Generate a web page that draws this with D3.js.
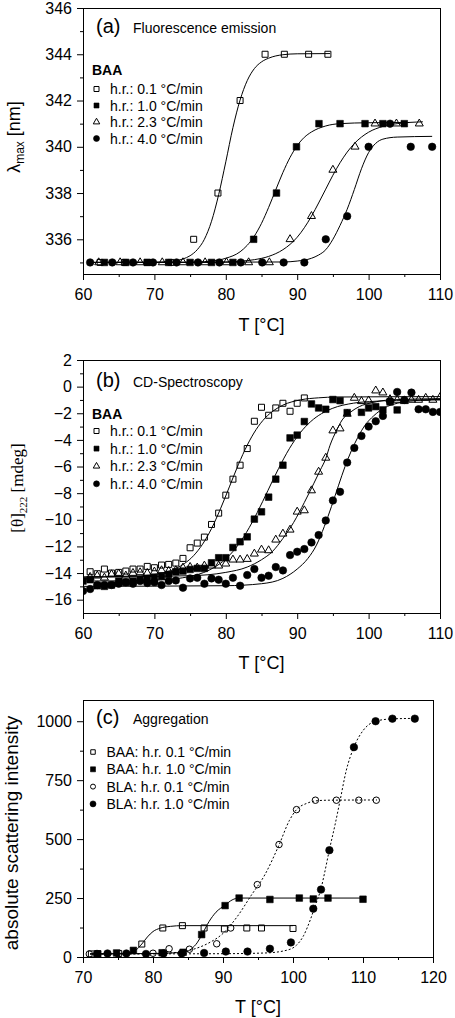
<!DOCTYPE html>
<html><head><meta charset="utf-8">
<script src="https://cdn.jsdelivr.net/npm/d3@7"></script>
<style>
html,body{margin:0;padding:0;background:#fff;}
svg{display:block;}
text{fill:#000;}
</style></head><body>
<svg id="chart" width="455" height="1018" font-family='"Liberation Sans", Arial, sans-serif'></svg>
<script>
// ---------------- Panel (a): Fluorescence emission, lambda_max [nm] ----------------
const aOpenSq01 = [[62.4,335],[65.8,335],[69,335],[72.3,335],[75.5,336],[78.9,338],[82.0,342],[85.5,344],[88.2,344],[91.6,344],[94.3,344]];
const aFillSq10 = [[63,335],[66,335],[69,335],[72,335],[75,335],[78,335],[81,335],[83.9,336],[87.1,338],[89.9,340],[93.05,341],[96,341],[99.5,341],[102,341],[105,341]];
const aTri23 = [[62.2,335],[65.2,335],[68,335],[71.1,335],[74,335],[77.1,335],[80.1,335],[83.2,335],[86.1,335],[89,336],[92,337],[95,339],[98.1,340],[100.9,341],[103.9,341],[107.1,341]];
const aCir40 = [[61,335],[64.1,335],[67,335],[69.8,335],[73.1,335],[76.1,335],[79.1,335],[82.1,335],[85.1,335],[88.1,335],[91,335],[94,336],[97,337],[100,340],[103,341],[105.9,340],[108.9,340]];
const aFit01 = [[61,335],[70,335.01],[72,335.04],[74,335.15],[75,335.29],[76,335.55],[77,336.0],[78,336.78],[79,337.93],[80,339.35],[81,340.83],[82,342.02],[83,342.86],[84,343.38],[85,343.67],[86,343.83],[88,343.98],[90,344.02],[94.6,344.03]];
const aFit10 = [[61,335],[72,335],[76,335.02],[78,335.06],[80,335.18],[82,335.46],[83,335.74],[84,336.14],[85,336.69],[86,337.38],[87,338.14],[88,338.89],[89,339.54],[90,340.05],[91,340.41],[92,340.64],[94,340.9],[96,341.0],[100,341.04],[105.3,341.05]];
const aFit23 = [[61,335],[76,335],[80,335.02],[82,335.05],[84,335.12],[86,335.26],[88,335.55],[89,335.78],[90,336.09],[91,336.5],[92,337.0],[93,337.57],[94,338.17],[95,338.77],[96,339.31],[97,339.77],[98,340.14],[99,340.42],[100,340.63],[102,340.88],[104,341.0],[107.6,341.08]];
const aFit40 = [[61,335],[88,335.02],[90,335.06],[92,335.18],[93,335.32],[94,335.55],[95,336.0],[96,336.6],[97,337.3],[98,338.15],[99,339.05],[100,339.75],[101,340.15],[102,340.33],[104,340.42],[108.9,340.45]];
const aXTicks = [60,70,80,90,100,110];
const aXMinor = [65,75,85,95,105];
const aYTicks = [336,338,340,342,344,346];
const aYMinor = [335,337,339,341,343,345];
const aLegend = ["h.r.: 0.1 °C/min","h.r.: 1.0 °C/min","h.r.: 2.3 °C/min","h.r.: 4.0 °C/min"];

// ---------------- Panel (b): CD-Spectroscopy, [theta]222 [mdeg] ----------------
const bOpenSq01 = [[61,-13.9],[62,-14.05],[63,-13.7],[64,-14.0],[65,-13.95],[66,-13.85],[67,-13.7],[68,-13.7],[69,-13.5],[70,-13.6],[71,-13.4],[72,-13.35],[73,-13.25],[74,-12.9],[75,-12.1],[76,-11.75],[77,-11.3],[78,-10.35],[79,-9.5],[80,-8.15],[81,-6.95],[82,-5.9],[83,-4.65],[84,-2.6],[85,-1.55],[86,-2.15],[87,-1.6],[88,-1.25],[89,-1.85],[90,-1.25],[91,-0.85]];
const bFillSq10 = [[60,-14.6],[61,-14.5],[62,-14.95],[63,-15.0],[64,-14.9],[65,-14.6],[66,-14.7],[67,-14.6],[68,-14.5],[69,-14.4],[70,-14.35],[71,-14.25],[72,-14.1],[73,-13.9],[74,-13.85],[75,-13.73],[76,-13.65],[77,-13.65],[78,-13.23],[79,-12.85],[80,-12.85],[81,-12.08],[82,-11.65],[83,-11.28],[84,-9.95],[85,-9.4],[86,-8.3],[87,-6.95],[88,-5.9],[89,-3.85],[90,-3.64],[91,-2.62],[92,-1.3],[93,-1.6],[94,-1.7],[95,-0.97],[96,-1.05],[97,-1.95],[99,-1.93],[100,-1.6],[101,-1.5],[102,-1.75],[103,-1.15],[104,-1.75]];
const bTri23 = [[61,-14.3],[62,-14.2],[63,-14.35],[64,-14.1],[65,-14.05],[66,-14.2],[67,-14.0],[68,-13.95],[69,-14.0],[70,-13.9],[71,-13.8],[72,-13.85],[73,-13.8],[74,-13.6],[75,-13.55],[76,-13.6],[77,-13.45],[78,-13.45],[79,-13.45],[80,-13.3],[81,-13.0],[82,-13.0],[83,-12.95],[84,-12.55],[85,-12.25],[86,-12.3],[87,-11.5],[88,-11.05],[89,-10.75],[90,-9.4],[91,-9.3],[92,-7.8],[93,-6.4],[94,-5.35],[95,-3.3],[96,-3.15],[97,-2.05],[98,-0.85],[99,-1.1],[100,-1.05],[101,-0.3],[102,-0.45],[103,-0.95],[104,-1.0],[105,-1.1],[106,-1.0],[107,-1.0],[108,-0.85],[109,-1.0],[110,-0.8]];
const bCir40 = [[60,-15.35],[61,-15.2],[62,-14.9],[63,-14.9],[64,-14.9],[65,-14.8],[66,-14.7],[67,-14.8],[68,-14.6],[69,-14.75],[70,-14.7],[71,-14.9],[72,-14.6],[73,-14.55],[74,-15.1],[75,-14.4],[76,-14.35],[77,-14.8],[78,-14.4],[79,-14.5],[80,-14.8],[81,-14.35],[82,-14.95],[83,-14.15],[84,-13.7],[85,-14.35],[86,-14.2],[87,-13.55],[88,-13.8],[89,-12.65],[90,-12.4],[91,-12.2],[92,-11.7],[93,-11.15],[94,-10.05],[95,-8.55],[96,-7.9],[97,-5.7],[98,-4.6],[99,-3.7],[100,-3.0],[101,-2.6],[102,-2.2],[103,-1.1],[104,-0.4],[105,-1.0],[106,-0.45],[107,-1.7],[108,-1.7],[109,-1.9],[110,-1.9]];
const bFit01 = [[60,-14.3],[68,-14.21],[70.5,-14.06],[73,-13.66],[74.25,-13.27],[75.5,-12.69],[76.75,-11.83],[78,-10.66],[79.25,-9.18],[80.5,-7.53],[81.75,-5.87],[83,-4.4],[84.25,-3.22],[85.5,-2.36],[86.75,-1.78],[88,-1.39],[90.5,-0.99],[93,-0.84],[95.5,-0.78],[110,-0.75]];
const bFit10 = [[60,-14.6],[67.9,-14.57],[70.9,-14.51],[73.9,-14.36],[76.9,-13.96],[78.4,-13.57],[79.9,-12.98],[81.4,-12.12],[82.9,-10.94],[84.4,-9.46],[85.9,-7.8],[87.4,-6.14],[88.9,-4.66],[90.4,-3.48],[91.9,-2.62],[93.4,-2.03],[94.9,-1.64],[97.9,-1.24],[100.9,-1.1],[103.9,-1.03],[110,-1.0]];
const bFit23 = [[60,-14.3],[75,-14.2],[80,-13.95],[83,-13.55],[85,-13.0],[86.5,-12.4],[88,-11.4],[89.5,-10.2],[91,-8.7],[92.3,-7.3],[93.2,-6.3],[94.0,-5.4],[94.6,-4.4],[95.5,-3.3],[96.3,-2.5],[97.5,-1.9],[98.7,-1.5],[100.5,-1.2],[103,-1.0],[110,-0.9]];
const bFit40 = [[60,-15.0],[80,-14.95],[85,-14.8],[88,-14.4],[90,-13.7],[91.5,-12.9],[92.7,-11.9],[93.8,-10.5],[94.8,-9.0],[95.8,-7.4],[96.7,-6.0],[97.6,-4.8],[98.5,-3.8],[99.5,-2.9],[100.7,-2.2],[102.2,-1.6],[104,-1.25],[106.5,-1.05],[110,-0.95]];
const bXTicks = [60,70,80,90,100,110];
const bXMinor = [65,75,85,95,105];
const bYTicks = [-16,-14,-12,-10,-8,-6,-4,-2,0,2];
const bYMinor = [-15,-13,-11,-9,-7,-5,-3,-1,1];
const bLegend = ["h.r.: 0.1 °C/min","h.r.: 1.0 °C/min","h.r.: 2.3 °C/min","h.r.: 4.0 °C/min"];

// ---------------- Panel (c): Aggregation, absolute scattering intensity ----------------
const cBaa01 = [[71.2,13],[72.1,14],[75.1,15],[78.4,55],[81.4,123],[84.2,133],[87.3,123],[90.2,119],[93.4,123],[95.5,123],[100,121]];
const cBaa10 = [[72.1,13],[74.8,17],[77.2,28],[81.3,18],[84.3,20],[86.95,95],[90.3,218],[92.3,250],[96.7,244],[100.9,250],[102.9,246],[105,250],[110,245]];
const cBla01 = [[70.9,13],[80,16],[82.3,35],[85.2,33],[89.1,56],[91.1,123],[94.9,307],[98,477],[100.5,625],[103.2,665],[106.2,665],[109.4,665],[111.9,665]];
const cBla10 = [[72,13],[73.5,15],[76.2,15],[79,13],[81.5,15],[84.1,15],[87.3,17],[90.4,23],[93.5,23],[96.7,35],[99.7,62],[102.9,205],[104,286],[105.2,453],[108.7,890],[111.8,1000],[114.2,1011],[117.4,1011]];
const cFitBaa01 = [[71,13],[75,14],[76.5,17],[77.5,28],[78.4,55],[79.2,85],[80,108],[81,122],[82.5,130],[84.2,133],[100,133]];
const cFitBaa10 = [[71,13],[80,15],[84.5,20],[85.5,35],[86.3,60],[87,95],[88,150],[89,190],[90.3,220],[91.3,242],[92.3,250],[110,250]];
const cFitBla01 = [[71,13],[80,14],[84,22],[86,35],[88,60],[90,100],[92,170],[94,260],[96,350],[98,475],[99.5,580],[100.5,625],[102,652],[103.2,662],[105,665],[112,666]];
const cFitBla10 = [[72,13],[90,14],[96,17],[99,28],[100.5,50],[101.5,90],[102.5,160],[103.2,220],[104,290],[104.5,355],[105.2,455],[106,560],[106.7,660],[107.6,790],[108.7,890],[110,960],[111.8,1000],[114.2,1010],[117.4,1012]];
const cXTicks = [70,80,90,100,110,120];
const cXMinor = [75,85,95,105,115];
const cYTicks = [0,250,500,750,1000];
const cYMinor = [125,375,625,875];
const cLegend = ["BAA: h.r. 0.1 °C/min","BAA: h.r. 1.0 °C/min","BLA: h.r. 0.1 °C/min","BLA: h.r. 1.0 °C/min"];

// ---------------- drawing ----------------
const svg = d3.select('#chart');
const FONT = '"Liberation Sans", Arial, sans-serif';
const SERIF = '"Liberation Serif", "Times New Roman", serif';

function symPath(type, s) {
  if (type === 'sqOpen' || type === 'sqFill') return d3.symbol().type(d3.symbolSquare).size(s*s)();
  if (type === 'tri') return d3.symbol().type(d3.symbolTriangle).size(Math.sqrt(3)/4*s*s)();
  return d3.symbol().type(d3.symbolCircle).size(Math.PI*s*s/4)();
}
function styleSym(sel, type) {
  const filled = (type === 'sqFill' || type === 'cirFill');
  sel.attr('fill', filled ? '#000' : 'none').attr('stroke', '#000').attr('stroke-width', filled ? 0.6 : 1);
}

function drawPanel(o) {
  const x = d3.scaleLinear().domain(o.xDomain).range([o.left, o.right]);
  const y = d3.scaleLinear().domain(o.yDomain).range([o.bottom, o.top]);
  const g = svg.append('g');
  const clipId = 'clip-' + o.id;
  svg.append('clipPath').attr('id', clipId).append('rect')
    .attr('x', o.left).attr('y', o.top).attr('width', o.right - o.left).attr('height', o.bottom - o.top);

  const ax = g.append('g').attr('transform', `translate(0,${o.bottom})`)
    .call(d3.axisBottom(x).tickValues(o.xTicks).tickSize(6).tickSizeOuter(0).tickPadding(9).tickFormat(d3.format('d')));
  const axm = g.append('g').attr('transform', `translate(0,${o.bottom})`)
    .call(d3.axisBottom(x).tickValues(o.xMinor).tickSize(3).tickSizeOuter(0).tickFormat(''));
  const ay = g.append('g').attr('transform', `translate(${o.left},0)`)
    .call(d3.axisLeft(y).tickValues(o.yTicks).tickSize(6).tickSizeOuter(0).tickPadding(5).tickFormat(d3.format('d')));
  const aym = g.append('g').attr('transform', `translate(${o.left},0)`)
    .call(d3.axisLeft(y).tickValues(o.yMinor).tickSize(3).tickSizeOuter(0).tickFormat(''));
  [ax, axm, ay, aym].forEach(a => {
    a.attr('font-family', FONT).attr('font-size', 16);
    a.select('.domain').remove();
    a.selectAll('line').attr('stroke', '#000');
    a.selectAll('text').attr('fill', '#000');
  });
  g.append('rect').attr('x', o.left + 0.5).attr('y', o.top + 0.5)
    .attr('width', o.right - o.left).attr('height', o.bottom - o.top)
    .attr('fill', 'none').attr('stroke', '#000').attr('stroke-width', 1);

  const line = d3.line().x(d => x(d[0])).y(d => y(d[1])).curve(d3.curveMonotoneX);
  const pg = g.append('g').attr('clip-path', `url(#${clipId})`);
  o.fits.forEach(f => {
    pg.append('path').datum(f.data).attr('d', line).attr('fill', 'none')
      .attr('stroke', '#000').attr('stroke-width', 1)
      .attr('stroke-dasharray', f.dash || null);
  });
  o.series.forEach(s => {
    const p = symPath(s.type, s.size);
    pg.append('g').selectAll('path').data(s.data).join('path')
      .attr('d', p).attr('transform', d => `translate(${x(d[0])},${y(d[1])})`)
      .call(styleSym, s.type);
  });

  g.append('text').attr('x', o.titleX).attr('y', o.titleY).attr('font-size', 20).text(o.tag);
  g.append('text').attr('x', o.titleX + 37).attr('y', o.titleY).attr('font-size', 14).text(o.title);

  g.append('text').attr('x', (o.left + o.right) / 2).attr('y', o.xLabelY)
    .attr('text-anchor', 'middle').attr('font-size', 18).text('T [°C]');

  const lg = g.append('g');
  if (o.legendHead) {
    lg.append('text').attr('x', o.legX - 4.5).attr('y', o.legHeadY).attr('font-size', 14)
      .attr('font-weight', 'bold').text(o.legendHead);
  }
  o.legendItems.forEach((t, i) => {
    const by = o.legY0 + i * o.legDy;
    const s = o.series[i];
    lg.append('path').attr('d', symPath(s.type, s.legSize))
      .attr('transform', `translate(${o.legX},${by - 5})`).call(styleSym, s.type);
    lg.append('text').attr('x', o.legX + 13.5).attr('y', by).attr('font-size', 14).text(t);
  });
  return {x, y, g};
}

const pa = drawPanel({
  id: 'a', left: 83, right: 440, top: 8, bottom: 274,
  xDomain: [60, 110], yDomain: [334.5, 346],
  xTicks: aXTicks, xMinor: aXMinor, yTicks: aYTicks, yMinor: aYMinor,
  fits: [{data: aFit01}, {data: aFit10}, {data: aFit23}, {data: aFit40}],
  series: [
    {data: aOpenSq01, type: 'sqOpen', size: 6, legSize: 5},
    {data: aFillSq10, type: 'sqFill', size: 6.6, legSize: 5},
    {data: aTri23, type: 'tri', size: 8, legSize: 6.5},
    {data: aCir40, type: 'cirFill', size: 7.5, legSize: 6}
  ],
  tag: '(a)', title: 'Fluorescence emission', titleX: 96, titleY: 33,
  xLabelY: 331,
  legendHead: 'BAA', legHeadY: 75, legX: 96.5, legY0: 94, legDy: 16.5, legendItems: aLegend
});
pa.g.append('text').attr('transform', 'translate(20,137) rotate(-90)')
  .attr('text-anchor', 'middle').attr('font-size', 18)
  .call(t => {
    t.append('tspan').text('λ');
    t.append('tspan').attr('font-size', 12).attr('dy', 4).text('max');
    t.append('tspan').attr('dy', -4).text(' [nm]');
  });

const pb = drawPanel({
  id: 'b', left: 83, right: 440, top: 360, bottom: 613,
  xDomain: [60, 110], yDomain: [-17, 2],
  xTicks: bXTicks, xMinor: bXMinor, yTicks: bYTicks, yMinor: bYMinor,
  fits: [{data: bFit01}, {data: bFit10}, {data: bFit23}, {data: bFit40}],
  series: [
    {data: bOpenSq01, type: 'sqOpen', size: 6, legSize: 5},
    {data: bFillSq10, type: 'sqFill', size: 6.6, legSize: 5},
    {data: bTri23, type: 'tri', size: 8, legSize: 6.5},
    {data: bCir40, type: 'cirFill', size: 7.5, legSize: 6}
  ],
  tag: '(b)', title: 'CD-Spectroscopy', titleX: 96, titleY: 387,
  xLabelY: 669,
  legendHead: 'BAA', legHeadY: 419, legX: 96.5, legY0: 436, legDy: 17.6, legendItems: bLegend
});
pb.g.append('text').attr('transform', 'translate(23,488) rotate(-90)')
  .attr('text-anchor', 'middle').attr('font-size', 17)
  .attr('font-family', SERIF)
  .call(t => {
    t.append('tspan').text('[θ]');
    t.append('tspan').attr('font-size', 11).attr('dy', 4).text('222');
    t.append('tspan').attr('dy', -4).text(' [mdeg]');
  });

const pc = drawPanel({
  id: 'c', left: 83, right: 433, top: 700, bottom: 957,
  xDomain: [70, 120], yDomain: [0, 1090],
  xTicks: cXTicks, xMinor: cXMinor, yTicks: cYTicks, yMinor: cYMinor,
  fits: [{data: cFitBaa01}, {data: cFitBaa10}, {data: cFitBla01, dash: '2,2'}, {data: cFitBla10, dash: '2,2'}],
  series: [
    {data: cBaa01, type: 'sqOpen', size: 6, legSize: 4.5},
    {data: cBaa10, type: 'sqFill', size: 6.6, legSize: 5},
    {data: cBla01, type: 'cirOpen', size: 6.5, legSize: 5},
    {data: cBla10, type: 'cirFill', size: 7.5, legSize: 6}
  ],
  tag: '(c)', title: 'Aggregation', titleX: 96, titleY: 724,
  xLabelY: 1013,
  legendHead: null, legX: 93, legY0: 757, legDy: 17.3, legendItems: cLegend
});
pc.g.append('text').attr('transform', 'translate(18,833) rotate(-90)')
  .attr('text-anchor', 'middle').attr('font-size', 19).text('absolute scattering intensity');
</script>
</body></html>
